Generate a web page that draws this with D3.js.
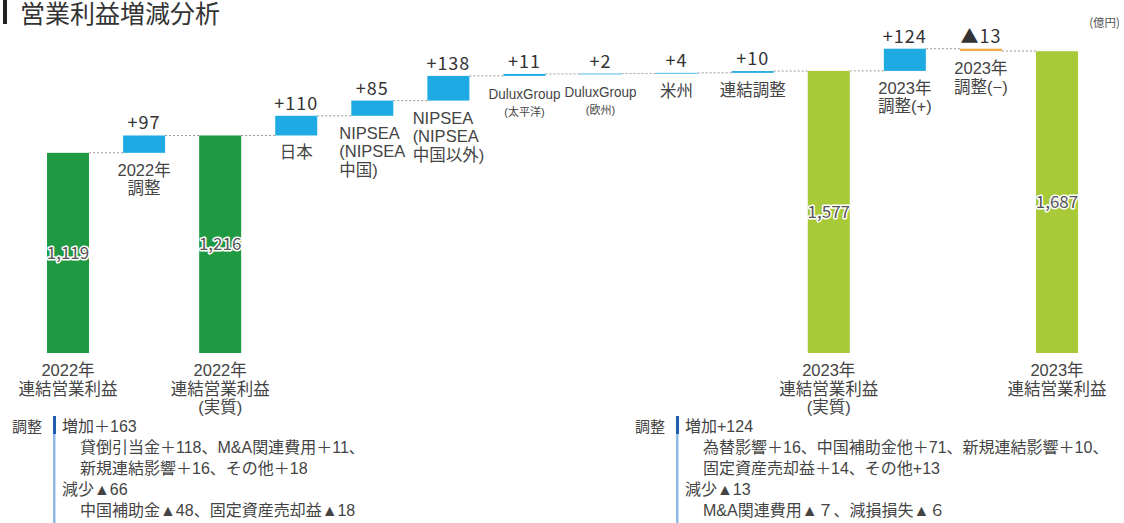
<!DOCTYPE html>
<html><head><meta charset="utf-8">
<script src="https://cdn.jsdelivr.net/npm/d3@7"></script>
<style>
html,body{margin:0;padding:0;background:#fff;}
svg{display:block;font-family:"Noto Sans CJK JP","Noto Sans",sans-serif;}
.tight{font-family:"Liberation Sans","Noto Sans CJK JP",sans-serif;}
</style></head>
<body><svg id="chart" width="1124" height="523"></svg>
<script>
// ---- data ----
const categoryLabels = [
  ["2022年","連結営業利益"],
  ["2022年","調整"],
  ["2022年","連結営業利益","(実質)"],
  ["日本"],
  ["NIPSEA","(NIPSEA","中国)"],
  ["NIPSEA","(NIPSEA","中国以外)"],
  ["DuluxGroup","(太平洋)"],
  ["DuluxGroup","(欧州)"],
  ["米州"],
  ["連結調整"],
  ["2023年","連結営業利益","(実質)"],
  ["2023年","調整(+)"],
  ["2023年","調整(−)"],
  ["2023年","連結営業利益"]
];
const values = [1119, 97, 1216, 110, 85, 138, 11, 2, 4, 10, 1577, 124, -13, 1687];
const kinds  = ["total","delta","total","delta","delta","delta","delta","delta","delta","delta","total","delta","delta","total"];
const periods = ["2022","2022","2022","change","change","change","change","change","change","change","2023","2023","2023","2023"];
const valueLabels = ["1,119","+97","1,216","+110","+85","+138","+11","+2","+4","+10","1,577","+124","▲13","1,687"];
const unitLabel = "(億円)";
const title = "営業利益増減分析";
const notesLeft = [
  ["増加＋163", 0],
  ["貸倒引当金＋118、M&A関連費用＋11、", 1],
  ["新規連結影響＋16、その他＋18", 1],
  ["減少▲66", 0],
  ["中国補助金▲48、固定資産売却益▲18", 1]
];
const notesRight = [
  ["増加+124", 0],
  ["為替影響＋16、中国補助金他＋71、新規連結影響＋10、", 1],
  ["固定資産売却益＋14、その他+13", 1],
  ["減少▲13", 0],
  ["M&A関連費用▲７、減損損失▲６", 1]
];

// ---- layout ----
const svg = d3.select("#chart");
const keys = categoryLabels.map(d => d.join(" "));
const x = d3.scalePoint().domain(keys).range([68, 1057]);
const y = d3.scaleLinear().domain([0, 1800]).range([353, 31]);
const bw = 42;

const colors = {"2022": "#1f9a42", "2023": "#a8c938", up: "#1eaae2", down: "#f6a843"};

let run = 0;
const bars = values.map((v, i) => {
  if (kinds[i] === "total") { run = v; return {i, lo: 0, hi: v, end: v, v}; }
  const s = run; run += v;
  return {i, lo: Math.min(s, run), hi: Math.max(s, run), end: run, v};
});

// title
svg.append("rect").attr("x", 3).attr("y", 0).attr("width", 4).attr("height", 24).attr("fill", "#222");
svg.append("text").attr("class", "tight").attr("x", 20).attr("y", 23).attr("font-size", 25).attr("fill", "#333")
  .attr("font-weight", 400).text(title);
svg.append("text").attr("x", 1120).attr("y", 27).attr("text-anchor", "end")
  .attr("font-size", 11.5).attr("fill", "#555").text(unitLabel);

// connectors
const conn = svg.append("g");
bars.slice(0, -1).forEach((b, k) => {
  conn.append("line")
    .attr("x1", x(keys[k]) + bw / 2).attr("x2", x(keys[k + 1]) - bw / 2)
    .attr("y1", y(b.end)).attr("y2", y(b.end))
    .attr("stroke", "#999").attr("stroke-width", 1).attr("stroke-dasharray", "2,2");
});

// bars
svg.append("g").selectAll("rect").data(bars).join("rect")
  .attr("x", d => x(keys[d.i]) - bw / 2)
  .attr("width", bw)
  .attr("y", d => y(d.hi))
  .attr("height", d => Math.max(0.8, y(d.lo) - y(d.hi)))
  .attr("fill", d => kinds[d.i] === "total" ? colors[periods[d.i]] : (d.v >= 0 ? colors.up : colors.down));

// value labels
bars.forEach(d => {
  const cx = x(keys[d.i]);
  if (kinds[d.i] === "total") {
    svg.append("text").attr("x", cx).attr("y", (y(d.lo) + y(d.hi)) / 2 + 6)
      .attr("text-anchor", "middle").attr("font-size", 17)
      .attr("fill", "#555").attr("stroke", "#fff").attr("stroke-width", 3)
      .attr("paint-order", "stroke").attr("stroke-linejoin", "round")
      .text(valueLabels[d.i]);
  } else {
    svg.append("text").attr("x", cx).attr("y", y(d.hi) - 6)
      .attr("text-anchor", "middle").attr("font-size", 18).attr("fill", "#333")
      .attr("letter-spacing", 1)
      .text(valueLabels[d.i]);
  }
});

// category labels (one text element per label, lines as tspans)
bars.forEach(d => {
  const cx = x(keys[d.i]);
  const lines = categoryLabels[d.i];
  const top = y(d.lo) + 23;
  const isDulux = lines[0] === "DuluxGroup";
  const t = svg.append("text").attr("class", "tight").attr("x", cx).attr("y", top)
    .attr("text-anchor", "middle").attr("fill", "#444")
    .attr("font-size", isDulux ? 15 : 16.5);
  const spans = lines.map((s, j) => {
    const sp = t.append("tspan").attr("x", cx)
      .attr("y", isDulux ? (j === 0 ? top : top + 17) : top + j * 18.6)
      .text(s);
    if (isDulux && j > 0) sp.attr("font-size", 11);
    if (isDulux && j === 0) sp.attr("textLength", 72).attr("lengthAdjust", "spacingAndGlyphs");
    return sp;
  });
  if (lines[0] === "NIPSEA") {
    const wmax = d3.max(spans, s => s.node().getComputedTextLength());
    t.attr("text-anchor", "start");
    spans.forEach(s => s.attr("x", cx - wmax / 2));
  }
});

// notes
function notes(list, x0) {
  const g = svg.append("g");
  g.append("text").attr("class", "tight").attr("x", x0).attr("y", 432).attr("font-size", 15).attr("fill", "#444").text("調整");
  g.append("rect").attr("x", x0 + 41).attr("y", 434).attr("width", 2.5).attr("height", 89).attr("fill", "#8db9e2");
  g.append("rect").attr("x", x0 + 41).attr("y", 416).attr("width", 3).attr("height", 18).attr("fill", "#1f5fae");
  const t = g.append("text").attr("class", "tight").attr("font-size", 16).attr("fill", "#444");
  list.forEach(([s, lvl], j) => {
    t.append("tspan").attr("x", x0 + 50 + lvl * 18).attr("y", 432 + j * 21).text(s);
  });
}
notes(notesLeft, 12);
notes(notesRight, 635);
</script>
</body></html>
